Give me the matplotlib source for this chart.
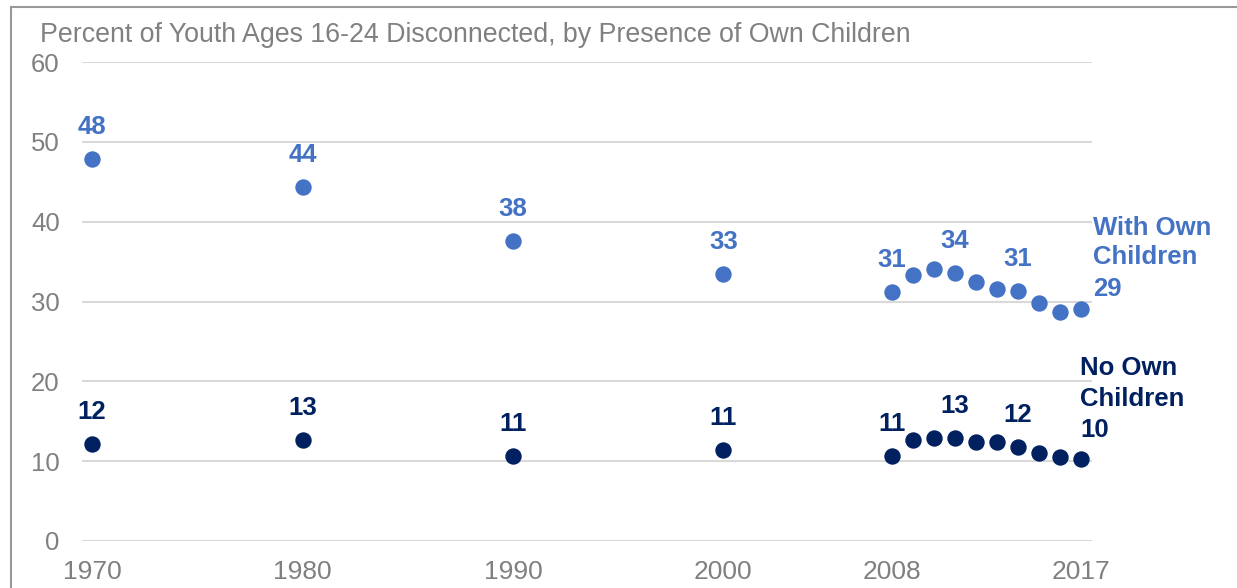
import matplotlib.pyplot as plt
import matplotlib.patches as patches

WITH_COLOR = '#4472C4'
NO_COLOR = '#002060'
TEXT_GRAY = '#808080'
GRID_COLOR = '#D9D9D9'

plt.rcParams['font.family'] = ['Liberation Sans', 'DejaVu Sans']

# dati
years = [1970, 1980, 1990, 2000, 2008, 2009, 2010, 2011, 2012, 2013, 2014, 2015, 2016, 2017]
with_children = [47.9, 44.4, 37.6, 33.4, 31.2, 33.3, 34.1, 33.6, 32.5, 31.6, 31.3, 29.8, 28.7, 29.1]
no_children = [12.1, 12.7, 10.7, 11.4, 10.7, 12.7, 12.9, 12.9, 12.4, 12.4, 11.8, 11.0, 10.5, 10.3]
labelled_years = [1970, 1980, 1990, 2000, 2008, 2011, 2014]
x_ticks = [1970, 1980, 1990, 2000, 2008, 2017]
y_ticks = [0, 10, 20, 30, 40, 50, 60]
title = 'Percent of Youth Ages 16-24 Disconnected, by Presence of Own Children'

fig = plt.figure(figsize=(12.37, 5.88), dpi=100)
ax = fig.add_axes([82 / 1237, 1 - 541 / 588, (1092 - 82) / 1237, (541 - 62) / 588])

# cornice grigia
fig.add_artist(patches.Rectangle((11 / 1237, -0.1), 1.2, 1 - 7 / 588 + 0.1,
                                 transform=fig.transFigure, fill=False,
                                 edgecolor='#999999', linewidth=1.5))

ax.plot(years, with_children, 'o', color=WITH_COLOR, markersize=10.8, zorder=3)
ax.plot(years, no_children, 'o', color=NO_COLOR, markersize=10.8, zorder=3)

LBL = 18.5
for yr, w, n in zip(years, with_children, no_children):
    if yr in labelled_years:
        ax.annotate(f'{round(w)}', (yr, w), xytext=(0, 23), textcoords='offset points',
                    ha='center', va='center', fontsize=LBL, fontweight='bold', color=WITH_COLOR)
        ax.annotate(f'{round(n)}', (yr, n), xytext=(0, 23), textcoords='offset points',
                    ha='center', va='center', fontsize=LBL, fontweight='bold', color=NO_COLOR)

# etichette finali
ax.annotate(f'{round(with_children[-1])}', (years[-1], with_children[-1]), xytext=(8.5, 14),
            textcoords='offset points', ha='left', va='center', fontsize=LBL,
            fontweight='bold', color=WITH_COLOR, annotation_clip=False)
ax.annotate('With Own\nChildren', (years[-1], with_children[-1]), xytext=(8.5, 47.5),
            textcoords='offset points', ha='left', va='center', fontsize=LBL,
            fontweight='bold', color=WITH_COLOR, annotation_clip=False, linespacing=1.28)
ax.annotate(f'{round(no_children[-1])}', (years[-1], no_children[-1]), xytext=(-0.7, 20.5),
            textcoords='offset points', ha='left', va='center', fontsize=LBL,
            fontweight='bold', color=NO_COLOR, annotation_clip=False)
ax.annotate('No Own\nChildren', (years[-1], no_children[-1]), xytext=(-0.7, 54),
            textcoords='offset points', ha='left', va='center', fontsize=LBL,
            fontweight='bold', color=NO_COLOR, annotation_clip=False, linespacing=1.35)

ax.set_xlim(1969.52, 2017.52)
ax.set_ylim(0, 60)
ax.set_xticks(x_ticks)
ax.set_yticks(y_ticks)
ax.tick_params(axis='both', length=0, colors=TEXT_GRAY)
ax.tick_params(axis='x', labelsize=19, pad=14)
ax.tick_params(axis='y', labelsize=18.5, pad=16)
ax.grid(True, axis='y', color=GRID_COLOR, linewidth=1.5)
ax.set_axisbelow(True)
for s in ax.spines.values():
    s.set_visible(False)

fig.text(40 / 1237, 1 - 35 / 588, title, fontsize=19.3, color=TEXT_GRAY, ha='left', va='center')

plt.savefig('out.png', dpi=100)
